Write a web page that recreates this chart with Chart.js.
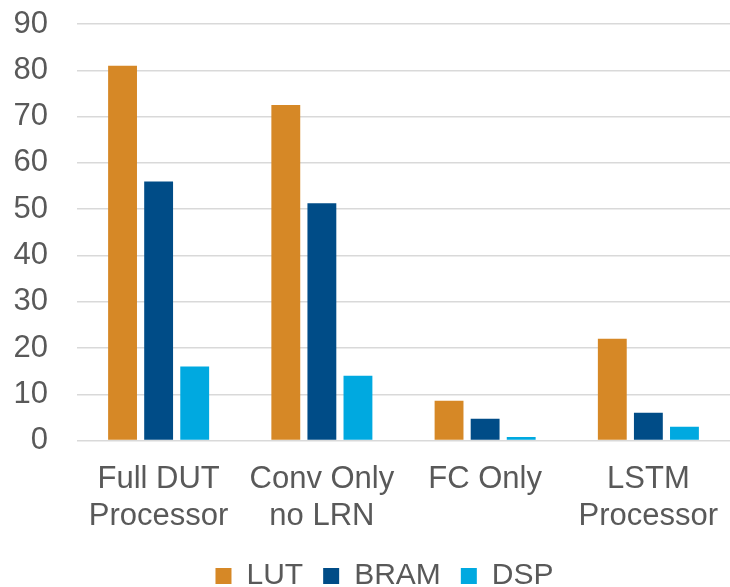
<!DOCTYPE html>
<html>
<head>
<meta charset="utf-8">
<script src="https://cdn.jsdelivr.net/npm/chart.js@4/dist/chart.umd.min.js"></script>
<style>
  html, body { margin: 0; padding: 0; background: #ffffff; }
  #wrap { width: 730px; height: 587px; position: relative; }
</style>
</head>
<body>
<div id="wrap"><canvas id="chart" width="730" height="587"></canvas></div>
<script>
// Resource usage per design (%)
const categories = [
  ['Full DUT', 'Processor'],
  ['Conv Only', 'no LRN'],
  ['FC Only'],
  ['LSTM', 'Processor']
];
const lutValues  = [81, 72.5, 8.6, 22];
const bramValues = [56, 51.3, 4.7, 6];
const dspValues  = [16, 14, 0.8, 3];
const yTicks = [0, 10, 20, 30, 40, 50, 60, 70, 80, 90];

const textColor = '#595959';
const fontFamily = '"Liberation Sans", Arial, sans-serif';

Chart.defaults.font.family = fontFamily;
Chart.defaults.color = textColor;

const barStyle = { categoryPercentage: 0.663, barPercentage: 0.8 };

// Lower the legend row, centre it slightly right of the canvas middle,
// and let the two-line category labels run below the x-axis box without clipping.
const layoutTweaks = {
  id: 'layoutTweaks',
  afterLayout(chart) {
    const lg = chart.legend;
    if (lg) {
      const dx = 19.5, dy = 14;
      lg.left += dx; lg.right += dx;
      lg.top += dy; lg.bottom += dy;
    }
    const x = chart.scales.x;
    if (x) x.bottom = chart.height;
  }
};

new Chart(document.getElementById('chart'), {
  type: 'bar',
  data: {
    labels: categories,
    datasets: [
      { label: 'LUT',  data: lutValues,  backgroundColor: '#D68826', ...barStyle },
      { label: 'BRAM', data: bramValues, backgroundColor: '#004C87', ...barStyle },
      { label: 'DSP',  data: dspValues,  backgroundColor: '#00A9E0', ...barStyle }
    ]
  },
  plugins: [layoutTweaks],
  options: {
    responsive: false,
    animation: false,
    devicePixelRatio: 1,
    layout: { padding: { top: 24, left: 0, right: 0, bottom: 0 } },
    plugins: {
      tooltip: { enabled: false },
      legend: {
        position: 'bottom',
        labels: {
          font: { size: 30 },
          color: textColor,
          boxWidth: 16,
          boxHeight: 16,
          padding: 20
        }
      }
    },
    scales: {
      x: {
        afterFit: (scale) => { scale.height = 86.4; },
        grid: { display: true, color: 'transparent', drawTicks: true, tickLength: 20, tickColor: 'transparent' },
        border: { display: false },
        ticks: { font: { size: 31, lineHeight: 1.2 }, color: textColor, padding: 0, maxRotation: 0, autoSkip: false }
      },
      y: {
        min: 0,
        max: 90,
        afterBuildTicks: (scale) => { scale.ticks = yTicks.map(v => ({ value: v })); },
        afterFit: (scale) => { scale.width = 77; },
        grid: { color: '#D9D9D9', lineWidth: 1.5, drawTicks: true, tickLength: 29, tickColor: 'transparent' },
        border: { display: false },
        ticks: { font: { size: 31 }, color: textColor, padding: 0 }
      }
    }
  }
});
</script>
</body>
</html>
